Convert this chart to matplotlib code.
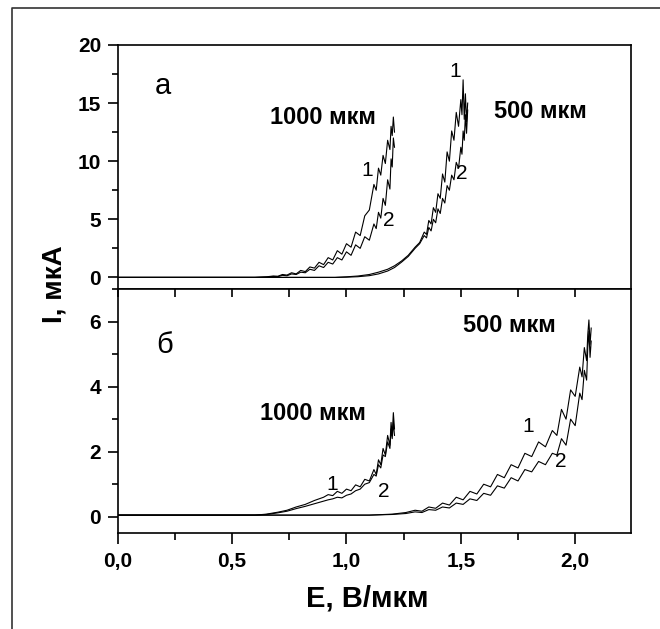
import matplotlib
matplotlib.use("Agg")
import matplotlib.pyplot as plt
from matplotlib.ticker import MultipleLocator, FuncFormatter
from matplotlib.lines import Line2D

plt.rcParams["font.family"] = ["Liberation Sans", "DejaVu Sans"]
plt.rcParams["xtick.labelsize"] = 15
plt.rcParams["ytick.labelsize"] = 15

# Данные: панель а (ВАХ, I в мкА)
e_1000a = [0.0, 0.6, 0.65, 0.68, 0.70, 0.72, 0.74, 0.76, 0.78, 0.80,
           0.82, 0.84, 0.86, 0.88, 0.90, 0.92, 0.94, 0.96, 0.98, 1.00,
           1.02, 1.04, 1.06, 1.08, 1.10, 1.12, 1.13, 1.14, 1.15, 1.16,
           1.17, 1.18, 1.19, 1.195, 1.20, 1.205, 1.21]
i_1000a_1 = [0.0, 0.0, 0.05, 0.12, 0.1, 0.25, 0.2, 0.4, 0.3, 0.6,
             0.5, 0.9, 0.8, 1.3, 1.1, 1.7, 1.5, 2.3, 2.0, 2.9,
             2.6, 3.9, 3.6, 5.3, 5.8, 8.0, 7.5, 9.4, 8.8, 10.5,
             9.8, 11.8, 11.0, 13.0, 12.2, 13.8, 12.5]
i_1000a_2 = [0.0, 0.0, 0.03, 0.08, 0.06, 0.18, 0.14, 0.3, 0.25, 0.45,
             0.4, 0.7, 0.6, 1.0, 0.85, 1.3, 1.15, 1.7, 1.5, 2.2,
             1.9, 2.8, 2.5, 3.5, 3.2, 4.6, 4.2, 5.6, 5.1, 6.8,
             6.2, 8.4, 7.6, 10.2, 9.5, 12.0, 11.2]

e_500a = [0.0, 0.95, 1.00, 1.05, 1.10, 1.14, 1.18, 1.21, 1.24, 1.27,
          1.30, 1.32, 1.34, 1.35, 1.36, 1.37, 1.38, 1.39, 1.40, 1.41,
          1.42, 1.43, 1.44, 1.45, 1.46, 1.47, 1.48, 1.49, 1.50, 1.505,
          1.51, 1.515, 1.52, 1.525, 1.53]
i_500a_1 = [0.0, 0.0, 0.05, 0.12, 0.25, 0.45, 0.7, 1.0, 1.4, 1.9,
            2.6, 3.0, 3.9, 3.7, 4.9, 4.6, 6.0, 5.6, 7.2, 6.8,
            8.9, 8.2, 10.8, 10.0, 12.6, 11.8, 14.2, 13.0, 15.3, 14.0,
            17.0, 13.6, 15.8, 13.4, 15.0]
i_500a_2 = [0.0, 0.0, 0.02, 0.06, 0.15, 0.3, 0.55, 0.85, 1.3, 1.8,
            2.5, 2.9, 3.6, 3.4, 4.3, 4.0, 5.0, 4.7, 5.9, 5.5,
            6.8, 6.4, 7.9, 7.5, 8.8, 8.4, 9.9, 9.4, 11.2, 10.6,
            12.6, 11.8, 14.0, 12.4, 14.4]

# Данные: панель б
e_1000b = [0.0, 0.6, 0.65, 0.70, 0.74, 0.78, 0.82, 0.86, 0.90, 0.92,
           0.94, 0.96, 0.98, 1.00, 1.02, 1.04, 1.06, 1.08, 1.10, 1.12,
           1.13, 1.14, 1.15, 1.16, 1.17, 1.18, 1.19, 1.195, 1.20, 1.205,
           1.21]
i_1000b_1 = [0.05, 0.05, 0.08, 0.14, 0.2, 0.3, 0.38, 0.5, 0.6, 0.68,
             0.65, 0.78, 0.72, 0.85, 0.8, 0.98, 0.92, 1.15, 1.1, 1.45,
             1.3, 1.75, 1.6, 2.1, 1.9, 2.5, 2.2, 2.9, 2.5, 3.2,
             2.7]
i_1000b_2 = [0.05, 0.05, 0.07, 0.12, 0.17, 0.25, 0.32, 0.4, 0.48, 0.52,
             0.55, 0.6, 0.58, 0.66, 0.7, 0.8, 0.85, 1.0, 1.05, 1.3,
             1.25, 1.6, 1.5, 1.9, 1.85, 2.3, 2.1, 2.7, 2.4, 2.9,
             2.5]

e_500b = [0.0, 1.1, 1.2, 1.26, 1.3, 1.33, 1.36, 1.39, 1.42, 1.45,
          1.48, 1.51, 1.54, 1.57, 1.60, 1.63, 1.66, 1.69, 1.72, 1.75,
          1.78, 1.81, 1.84, 1.87, 1.90, 1.92, 1.94, 1.96, 1.98, 2.00,
          2.02, 2.03, 2.04, 2.05, 2.055, 2.06, 2.065, 2.07]
i_500b_1 = [0.05, 0.05, 0.08, 0.13, 0.2, 0.17, 0.3, 0.26, 0.42, 0.36,
            0.6, 0.52, 0.78, 0.7, 1.0, 0.92, 1.3, 1.2, 1.6, 1.5,
            1.95, 1.85, 2.3, 2.15, 2.65, 2.5, 3.3, 3.0, 3.9, 3.7,
            4.6, 4.3, 5.2, 4.8, 5.6, 6.05, 5.3, 5.8]
i_500b_2 = [0.05, 0.05, 0.07, 0.1, 0.15, 0.13, 0.22, 0.2, 0.3, 0.27,
            0.42, 0.38, 0.55, 0.5, 0.72, 0.66, 0.95, 0.88, 1.2, 1.1,
            1.45, 1.38, 1.7, 1.6, 1.95, 1.9, 2.4, 2.2, 3.0, 2.8,
            3.8, 3.6, 4.5, 4.2, 5.2, 5.7, 4.9, 5.4]

# фигура и две панели одна над другой
fig = plt.figure(figsize=(6.6, 6.29), dpi=100)
ax1 = fig.add_axes([0.1784, 0.5405, 0.778, 0.388])
ax2 = fig.add_axes([0.1784, 0.1526, 0.778, 0.3879])

lw = 0.8
ax1.plot(e_1000a, i_1000a_1, color="black", lw=lw)
ax1.plot(e_1000a, i_1000a_2, color="black", lw=lw)
ax1.plot(e_500a, i_500a_1, color="black", lw=lw)
ax1.plot(e_500a, i_500a_2, color="black", lw=lw)

ax2.plot(e_1000b, i_1000b_1, color="black", lw=lw)
ax2.plot(e_1000b, i_1000b_2, color="black", lw=lw)
ax2.plot(e_500b, i_500b_1, color="black", lw=lw)
ax2.plot(e_500b, i_500b_2, color="black", lw=lw)

ax1.set_xlim(0, 2.245)
ax2.set_xlim(0, 2.245)
ax1.set_ylim(-1, 20)
ax2.set_ylim(-0.5, 7)

comma = FuncFormatter(lambda v, p: ("%.1f" % v).replace(".", ","))

ax1.yaxis.set_major_locator(MultipleLocator(5))
ax1.yaxis.set_minor_locator(MultipleLocator(2.5))
ax2.yaxis.set_major_locator(MultipleLocator(2))
ax2.yaxis.set_minor_locator(MultipleLocator(1))
ax2.xaxis.set_major_locator(MultipleLocator(0.5))
ax2.xaxis.set_minor_locator(MultipleLocator(0.25))
ax2.xaxis.set_major_formatter(comma)

# оси и засечки
for ax in (ax1, ax2):
    for s in ax.spines.values():
        s.set_linewidth(1.2)
    ax.tick_params(axis="y", which="major", direction="out", length=7, width=1.2, pad=5)
    ax.tick_params(axis="y", which="minor", direction="out", length=4, width=1.2)

ax1.tick_params(axis="x", which="both", bottom=False, labelbottom=False)
ax2.tick_params(axis="x", which="major", direction="out", length=8, width=1.2, pad=6)
ax2.tick_params(axis="x", which="minor", direction="out", length=5, width=1.2)

# засечки внутрь на верхней границе нижней панели
sec = ax2.secondary_xaxis("top")
sec.xaxis.set_major_locator(MultipleLocator(0.25))
sec.tick_params(direction="in", length=6, width=1.2, labeltop=False)
sec.spines["top"].set_visible(False)

for ax in (ax1, ax2):
    for lab in ax.get_yticklabels() + ax.get_xticklabels():
        lab.set_fontweight("bold")
        lab.set_fontsize(15)

# подписи
big = 17
num = 15
ax1.text(0.198, 16.5, "а", fontsize=21, ha="center", va="center")
ax1.text(0.896, 13.8, "1000 мкм", fontsize=big, fontweight="bold", ha="center", va="center")
ax1.text(1.847, 14.25, "500 мкм", fontsize=big, fontweight="bold", ha="center", va="center")
ax1.text(1.089, 9.2, "1", fontsize=num, ha="center", va="center")
ax1.text(1.184, 4.9, "2", fontsize=num, ha="center", va="center")
ax1.text(1.476, 17.7, "1", fontsize=num, ha="center", va="center")
ax1.text(1.505, 8.9, "2", fontsize=num, ha="center", va="center")

ax2.text(0.207, 5.28, "б", fontsize=21, ha="center", va="center")
ax2.text(0.854, 3.16, "1000 мкм", fontsize=big, fontweight="bold", ha="center", va="center")
ax2.text(1.712, 5.88, "500 мкм", fontsize=big, fontweight="bold", ha="center", va="center")
ax2.text(0.939, 0.98, "1", fontsize=num, ha="center", va="center")
ax2.text(1.165, 0.77, "2", fontsize=num, ha="center", va="center")
ax2.text(1.796, 2.77, "1", fontsize=num, ha="center", va="center")
ax2.text(1.935, 1.69, "2", fontsize=num, ha="center", va="center")

fig.text(0.083, 0.548, "I, мкА", rotation=90, fontsize=20, fontweight="bold",
         ha="center", va="center")
fig.text(0.557, 0.049, "E, В/мкм", fontsize=21, fontweight="bold", ha="center", va="center")

# рамка вокруг рисунка (видны левая и верхняя стороны)
fig.add_artist(Line2D([12 / 660, 12 / 660, 1.0], [0.0, 1 - 8 / 629, 1 - 8 / 629],
                      transform=fig.transFigure, color="#333333", lw=1.2))

fig.savefig("out.png", dpi=100)
